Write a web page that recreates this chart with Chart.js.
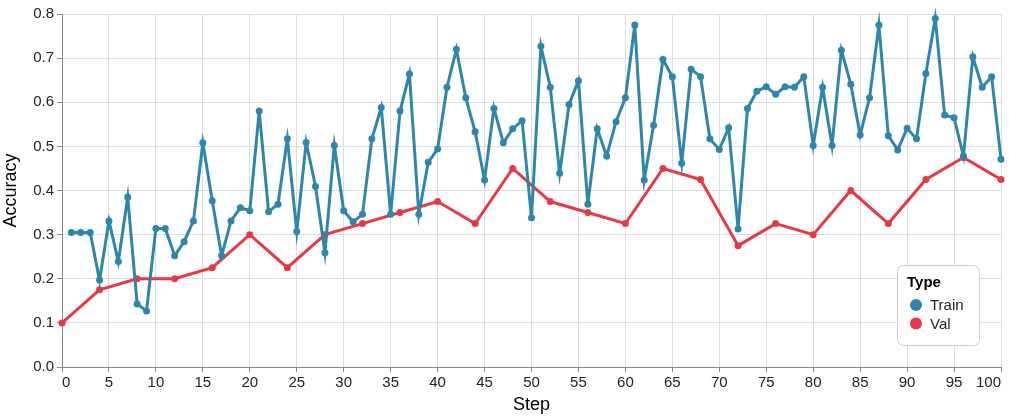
<!DOCTYPE html>
<html>
<head>
<meta charset="utf-8">
<script src="https://cdn.jsdelivr.net/npm/chart.js@4.4.1/dist/chart.umd.min.js"></script>
<style>
  html, body { margin: 0; padding: 0; background: #fff; }
  #wrap { position: relative; width: 1009px; height: 420px; }
</style>
</head>
<body>
<div id="wrap"><canvas id="accChart"></canvas></div>
<script>
// Data
const trainSteps = [1, 2, 3, 4, 5, 6, 7, 8, 9, 10, 11, 12, 13, 14, 15, 16, 17, 18, 19, 20,
  21, 22, 23, 24, 25, 26, 27, 28, 29, 30, 31, 32, 33, 34, 35, 36, 37, 38, 39, 40,
  41, 42, 43, 44, 45, 46, 47, 48, 49, 50, 51, 52, 53, 54, 55, 56, 57, 58, 59, 60,
  61, 62, 63, 64, 65, 66, 67, 68, 69, 70, 71, 72, 73, 74, 75, 76, 77, 78, 79, 80,
  81, 82, 83, 84, 85, 86, 87, 88, 89, 90, 91, 92, 93, 94, 95, 96, 97, 98, 99, 100];
const trainAcc = [0.305, 0.305, 0.305, 0.197, 0.331, 0.239, 0.385, 0.143, 0.127, 0.314,
  0.314, 0.252, 0.284, 0.331, 0.508, 0.377, 0.252, 0.331, 0.361, 0.354,
  0.58, 0.352, 0.369, 0.517, 0.307, 0.509, 0.409, 0.259, 0.502, 0.354,
  0.329, 0.346, 0.517, 0.588, 0.346, 0.58, 0.664, 0.346, 0.464, 0.494,
  0.634, 0.72, 0.61, 0.533, 0.424, 0.586, 0.508, 0.54, 0.558, 0.338,
  0.727, 0.634, 0.439, 0.595, 0.649, 0.369, 0.54, 0.478, 0.556, 0.61,
  0.775, 0.424, 0.548, 0.697, 0.658, 0.462, 0.675, 0.658, 0.517, 0.493,
  0.542, 0.313, 0.586, 0.625, 0.635, 0.618, 0.635, 0.634, 0.658, 0.502,
  0.634, 0.502, 0.718, 0.641, 0.526, 0.61, 0.775, 0.524, 0.492, 0.541,
  0.517, 0.665, 0.79, 0.571, 0.565, 0.478, 0.703, 0.634, 0.658, 0.471];

const valSteps = [0, 4, 8, 12, 16, 20, 24, 28, 32, 36, 40, 44, 48, 52, 56, 60, 64, 68, 72, 76, 80, 84, 88, 92, 96, 100];
const valAcc = [0.1, 0.175, 0.2, 0.2, 0.225, 0.3, 0.225, 0.3, 0.325, 0.35, 0.375, 0.325, 0.45,
  0.375, 0.35, 0.325, 0.45, 0.425, 0.275, 0.325, 0.3, 0.4, 0.325, 0.425, 0.475, 0.425];

const seriesNames = ['Train', 'Val'];
const seriesColors = ['#2e86ab', '#e63946'];
const legendTitle = 'Type';

const FONT = '"Liberation Sans", Arial, sans-serif';

function toPoints(xs, ys) {
  return xs.map((x, i) => ({ x: x, y: ys[i] }));
}

function lineDataset(label, points, color) {
  return {
    label: label,
    data: points,
    borderColor: color,
    backgroundColor: color,
    borderWidth: 3,
    borderJoinStyle: 'miter',
    pointRadius: 3.5,
    pointHoverRadius: 3.5,
    pointBorderWidth: 0,
    tension: 0,
    clip: false
  };
}

// Legend box drawn inside the plot, like the reference
const boxLegend = {
  id: 'boxLegend',
  afterDraw(chart) {
    const ctx = chart.ctx;
    const area = chart.chartArea;
    const w = 82, h = 80;
    const x = area.right - 22 - w;
    const y = area.bottom - 22 - h;
    ctx.save();
    ctx.beginPath();
    ctx.roundRect(x + 0.5, y + 0.5, w, h, 6);
    ctx.fillStyle = '#ffffff';
    ctx.fill();
    ctx.strokeStyle = '#cccccc';
    ctx.lineWidth = 1;
    ctx.stroke();

    ctx.fillStyle = '#000';
    ctx.font = 'bold 15px ' + FONT;
    ctx.textBaseline = 'middle';
    ctx.textAlign = 'left';
    ctx.fillText(legendTitle, x + 10, y + 18);

    chart.data.datasets.forEach((ds, i) => {
      const cy = y + 40 + i * 18.5;
      ctx.beginPath();
      ctx.arc(x + 19, cy, 6, 0, Math.PI * 2);
      ctx.fillStyle = ds.borderColor;
      ctx.fill();
      ctx.fillStyle = '#222';
      ctx.font = '15px ' + FONT;
      ctx.fillText(ds.label, x + 33, cy + 1);
    });
    ctx.restore();
  }
};

const ctx = document.getElementById('accChart').getContext('2d');
const accChart = new Chart(ctx, {
  type: 'line',
  data: {
    datasets: [
      lineDataset(seriesNames[0], toPoints(trainSteps, trainAcc), seriesColors[0]),
      lineDataset(seriesNames[1], toPoints(valSteps, valAcc), seriesColors[1])
    ]
  },
  options: {
    responsive: true,
    maintainAspectRatio: false,
    animation: false,
    layout: { padding: { top: 14, right: 8, left: 0, bottom: 0 } },
    plugins: {
      legend: { display: false },
      tooltip: { enabled: false }
    },
    scales: {
      x: {
        type: 'linear',
        min: 0,
        max: 100,
        afterFit: s => { s.height = 53; },
        ticks: {
          stepSize: 5,
          align: 'inner',
          maxRotation: 0,
          padding: 2,
          color: '#222',
          font: { family: FONT, size: 15 }
        },
        grid: { color: '#dddddd', tickColor: '#888888', tickLength: 5 },
        border: { color: '#888888' },
        title: {
          display: true,
          text: 'Step',
          color: '#000',
          font: { family: FONT, size: 18 },
          padding: { top: 0, bottom: 4 }
        }
      },
      y: {
        min: 0,
        max: 0.8,
        afterFit: s => { s.width = 62; },
        ticks: {
          stepSize: 0.1,
          padding: 3,
          color: '#222',
          font: { family: FONT, size: 15 },
          callback: v => v.toFixed(1)
        },
        grid: { color: '#dddddd', tickColor: '#888888', tickLength: 5 },
        border: { color: '#888888' },
        title: {
          display: true,
          text: 'Accuracy',
          color: '#000',
          font: { family: FONT, size: 18 },
          padding: { top: 0, bottom: 2 }
        }
      }
    }
  },
  plugins: [boxLegend]
});
</script>
</body>
</html>
